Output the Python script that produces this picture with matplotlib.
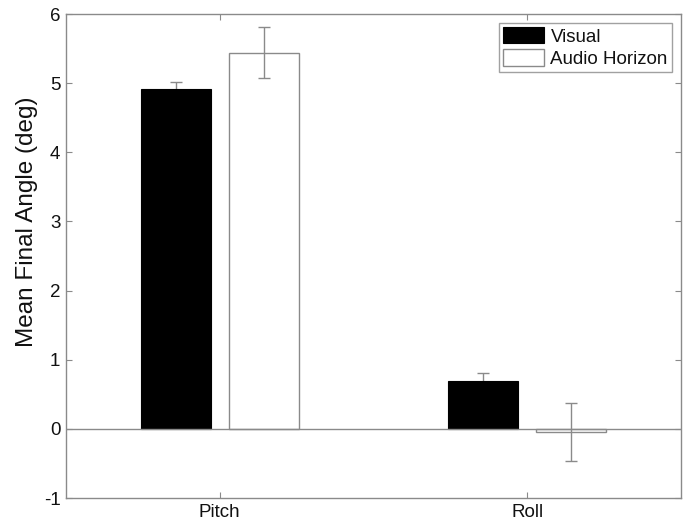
import matplotlib
matplotlib.use("Agg")
import matplotlib.pyplot as plt
import numpy as np

categories = ["Pitch", "Roll"]
series_names = ["Visual", "Audio Horizon"]
visual_means = [4.92, 0.69]
visual_err = [0.09, 0.12]
audio_means = [5.44, -0.04]
audio_err = [0.37, 0.42]

plt.rcParams['font.family'] = ['Liberation Sans', 'DejaVu Sans']
plt.rcParams['axes.unicode_minus'] = False
gray = '#8a8a8a'

fig = plt.figure(figsize=(6.86, 5.23), dpi=100)
ax = fig.add_axes([0.0962, 0.0478, 0.8965, 0.9254])

x = np.arange(1, len(categories) + 1)
w = 0.228
off = 0.143
ax.errorbar(x - off, visual_means, yerr=visual_err, fmt='none', ecolor=gray,
            elinewidth=1.0, capsize=4, capthick=1.0, zorder=1.5)
ax.bar(x - off, visual_means, w, color='black', edgecolor='black', linewidth=0.8,
       label=series_names[0], zorder=2)
ax.bar(x + off, audio_means, w, color='white', edgecolor=gray, linewidth=1.0,
       label=series_names[1], zorder=2)
ax.errorbar(x + off, audio_means, yerr=audio_err, fmt='none', ecolor=gray,
            elinewidth=1.0, capsize=4, capthick=1.0, zorder=3)
ax.axhline(0, color=gray, linewidth=1.0, zorder=2.5)

ax.set_xlim(0.5, 2.5)
ax.set_ylim(-1, 6)
ax.set_xticks(x)
ax.set_xticklabels(categories)
ax.set_yticks(np.arange(-1, 7, 1))
ax.tick_params(direction='in', length=4, color=gray, labelsize=13.5, top=True, right=True,
               labelcolor='#111111', pad=4)
for s in ax.spines.values():
    s.set_color(gray)
    s.set_linewidth(1.0)
ax.set_ylabel("Mean Final Angle (deg)", fontsize=17.5, color='#111111')
ax.yaxis.set_label_coords(-0.045, 0.57)

leg = ax.legend(loc='upper right', fontsize=13.5, frameon=True, fancybox=False,
                edgecolor=gray, borderpad=0.2, handlelength=2.2, handleheight=0.96,
                handletextpad=0.35, labelspacing=0.2, borderaxespad=0.5)
leg.get_frame().set_linewidth(1.0)
for t in leg.get_texts():
    t.set_color('#111111')

fig.savefig("out.png", dpi=100)
